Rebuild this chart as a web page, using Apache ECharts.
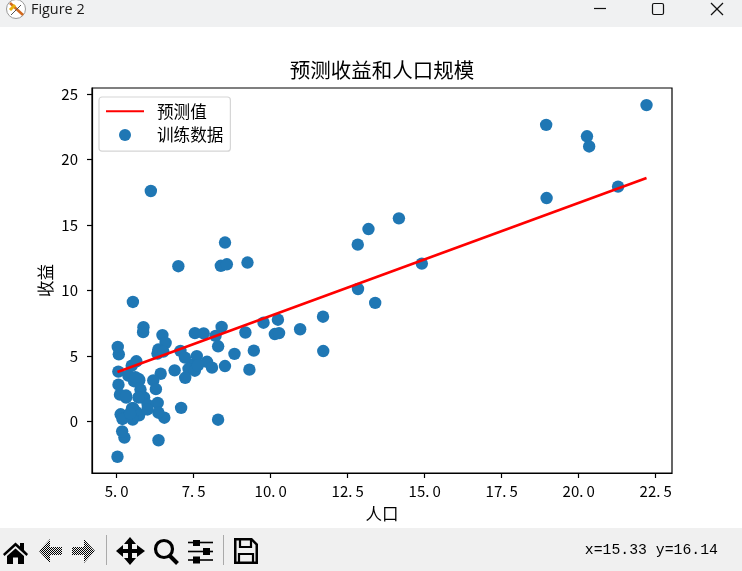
<!DOCTYPE html>
<html><head><meta charset="utf-8">
<style>html,body{margin:0;padding:0;background:#fff}#c{width:742px;height:571px}</style>
<script src="https://cdn.jsdelivr.net/npm/echarts@6/dist/echarts.min.js"></script>
</head><body><div id="c"></div>
<script>
const population = [6.1101,5.5277,8.5186,7.0032,5.8598,8.3829,7.4764,8.5781,6.4862,5.0546,5.7107,14.164,5.734,8.4084,5.6407,5.3794,6.3654,5.1301,6.4296,7.0708,6.1891,20.27,5.4901,6.3261,5.5649,18.945,12.828,10.957,13.176,22.203,5.2524,6.5894,9.2482,5.8918,8.2111,7.9334,8.0959,5.6063,12.836,6.3534,5.4069,6.8825,11.708,5.7737,7.8247,7.0931,5.0702,5.8014,11.7,5.5416,7.5402,5.3077,7.4239,7.6031,6.3328,6.3589,6.2742,5.6397,9.3102,9.4536,8.8254,5.1793,21.279,14.908,18.959,7.2182,8.2951,10.236,5.4994,20.341,10.136,7.3345,6.0062,7.2259,5.0269,6.5479,7.5386,5.0365,10.274,5.1077,5.7292,5.1884,6.3557,9.7687,6.5159,8.5172,9.1802,6.002,5.5204,5.0594,5.7077,7.6366,5.8707,5.3054,8.2934,13.394,5.4369];
const profit = [17.592,9.1302,13.662,11.854,6.8233,11.886,4.3483,12,6.5987,3.8166,3.2522,15.505,3.1551,7.2258,0.71618,3.5129,5.3048,0.56077,3.6518,5.3893,3.1386,21.767,4.263,5.1875,3.0825,22.638,13.501,7.0467,14.692,24.147,-1.22,5.9966,12.134,1.8495,6.5426,4.5623,4.1164,3.3928,10.117,5.4974,0.55657,3.9115,5.3854,2.4406,6.7318,1.0463,5.1337,1.844,8.0043,1.0179,6.7504,1.8396,4.2885,4.9981,1.4233,-1.4211,2.4756,4.6042,3.9624,5.4141,5.1694,-0.74279,17.929,12.054,17.054,4.8852,5.7442,7.7754,1.0173,20.992,6.6799,4.0259,1.2784,3.3411,-2.6807,0.29678,3.8845,5.7014,6.7526,2.0576,0.47953,0.20421,0.67861,7.5435,5.3436,4.2415,6.7981,0.92695,0.152,2.8214,1.8451,4.2959,7.2029,1.9869,0.14454,9.0551,0.61705];
const lineX = [5.0269, 22.203];
const lineY = [3.78, 18.58];
const xTicks = [5, 7.5, 10, 12.5, 15, 17.5, 20, 22.5];
const yTicks = [0, 5, 10, 15, 20, 25];
const titleText = '预测收益和人口规模';
const xName = '人口', yName = '收益';
const lineName = '预测值', scatterName = '训练数据';
const windowTitle = 'Figure 2', statusText = 'x=15.33 y=16.14';

const CJK = '"Noto Sans CJK SC"';
const MONO = '"Liberation Mono"';
const bar = '#f0f0f0';

const cv = document.createElement('canvas'); cv.width = cv.height = 2;
const g = cv.getContext('2d'); g.fillStyle = '#f0f0f0'; g.fillRect(0,0,2,2);
g.fillStyle = '#000'; g.fillRect(0,0,1,1); g.fillRect(1,1,1,1);
const dither = {image: cv, repeat: 'repeat'};

const P = (pts, fill) => ({type:'polygon', silent:true, shape:{points:pts}, style:{fill:fill||'#000', stroke:null}});
const S = (pts, w, col) => ({type:'polyline', silent:true, shape:{points:pts}, style:{fill:null, stroke:col||'#000', lineWidth:w||1}});
const R = (x,y,w,h) => ({type:'rect', silent:true, shape:{x:x,y:y,width:w,height:h}, style:{fill:'#000'}});

const chrome = [
  {type:'rect', silent:true, shape:{x:0,y:0,width:742,height:27}, style:{fill:'#f0f1f2'}},
  {type:'rect', silent:true, shape:{x:0,y:528,width:742,height:43}, style:{fill:bar}},
  {type:'circle', silent:true, shape:{cx:16,cy:9,r:9.5}, style:{fill:'#fff',stroke:'#999',lineWidth:1}},
  S([[10,3],[23,15]], 2.5, '#d2691e'),
  S([[10,10],[15,5]], 3, '#e8b010'),
  S([[11,15],[21,5]], 1, '#555'),
  {type:'text', silent:true, x:31, y:10, style:{text:windowTitle, font:'14.4px "Open Sans"', fill:'#1a1a1a', textVerticalAlign:'middle'}},
  S([[594,8.5],[606,8.5]], 1.2, '#111'),
  {type:'rect', silent:true, shape:{x:652.5,y:3.5,width:11,height:11,r:1.5}, style:{fill:null,stroke:'#111',lineWidth:1.2}},
  S([[711,3],[723,15]], 1.2, '#111'),
  S([[723,3],[711,15]], 1.2, '#111'),
  // home
  P([[3,554],[15.5,542.5],[20,546.5],[20,543],[24,543],[24,550],[28,554],[26.5,556],[15.5,546],[4.5,556]]),
  P([[7,556],[15.5,548.5],[24,556],[24,564],[18,564],[18,557.5],[13,557.5],[13,564],[7,564]]),
  // back / forward
  P([[39,551],[50,539],[50,547],[62,547],[62,555],[50,555],[50,563]], dither),
  P([[95,551],[84,539],[84,547],[72,547],[72,555],[84,555],[84,563]], dither),
  S([[106.5,535],[106.5,565]], 1, '#aaa'),
  // move
  P([[130,537],[136,544],[132,544],[132,549],[137,549],[137,545],[145,551],[137,557],[137,553],[132,553],[132,558],[136,558],[130,565],[124,558],[128,558],[128,553],[123,553],[123,557],[116,551],[123,545],[123,549],[128,549],[128,544],[124,544]]),
  // zoom
  {type:'circle', silent:true, shape:{cx:164,cy:549,r:8.5}, style:{fill:null,stroke:'#000',lineWidth:3.2}},
  S([[170,556],[177.5,563.5]], 4),
  // sliders
  S([[188,542.5],[213,542.5]], 1.6),
  S([[188,551.5],[213,551.5]], 1.6),
  S([[188,560],[213,560]], 1.6),
  R(193,540,7,6), R(203,548,7,7), R(193,556.5,7,7),
  S([[223.5,535],[223.5,565]], 1, '#aaa'),
  // save
  P([[234,538],[252,538],[258,544],[258,564],[234,564]], '#000'),
  P([[236.5,540.5],[251,540.5],[255.5,545],[255.5,561.5],[236.5,561.5]], bar),
  S([[240,539],[240,547],[251,547],[251,539]], 2.2),
  S([[239,563],[239,554],[253,554],[253,563]], 2.2),
  {type:'text', silent:true, x:718, y:550, style:{text:statusText, font:'14.8px '+MONO, fill:'#000', textAlign:'right', textVerticalAlign:'middle'}}
];

const axisCommon = {
  axisLine:{show:true, onZero:false, lineStyle:{color:'#000',width:1.2}},
  splitLine:{show:false},
  nameTextStyle:{fontFamily:CJK, fontSize:16.5, color:'#000'},
  nameLocation:'middle',
  nameMoveOverlap:false
};
const tickFont = {fontFamily:CJK, fontSize:15, color:'#000'};

const chart = echarts.init(document.getElementById('c'), null, {renderer:'canvas'});
chart.setOption({
  animation:false,
  backgroundColor:'#fff',
  title:{text:titleText, left:377, top:55, textAlign:'center', textStyle:{fontFamily:CJK, fontSize:20.5, fontWeight:'normal', color:'#000'}},
  grid:{left:92, top:88, width:580, height:385, show:true, borderColor:'#000', borderWidth:1.2, backgroundColor:'#fff', containLabel:false},
  xAxis:Object.assign({}, axisCommon, {
    type:'value', min:4.2, max:23.03, name:xName, nameGap:32,
    axisTick:{show:true, length:5, inside:false, lineStyle:{color:'#000',width:1.2}, customValues:xTicks},
    axisLabel:Object.assign({customValues:xTicks, margin:11, formatter:v=>{
      const p = v.toFixed(1).split('.');
      return '{a|'+p[0]+'.}{b|'+p[1]+'}';
    }, rich:{a:tickFont, b:Object.assign({padding:[0,0,0,3]}, tickFont)}}, tickFont)
  }),
  yAxis:Object.assign({}, axisCommon, {
    type:'value', min:-3.92, max:25.45, name:yName, nameGap:38,
    axisTick:{show:true, length:5, inside:false, lineStyle:{color:'#000',width:1.2}, customValues:yTicks},
    axisLabel:Object.assign({customValues:yTicks, margin:14, formatter:v=>String(v)}, tickFont)
  }),
  legend:{
    orient:'vertical', left:99, top:97, padding:[6,7,8,6], itemGap:7,
    itemWidth:38, itemHeight:12, selectedMode:false,
    backgroundColor:'rgba(255,255,255,0.8)', borderColor:'#d5d5d5', borderWidth:1.2, borderRadius:3,
    data:[{name:lineName, itemStyle:{opacity:0}}, scatterName],
    textStyle:{fontFamily:CJK, fontSize:16.6, color:'#000', padding:[0,0,0,8]}
  },
  tooltip:{show:false},
  series:[
    {name:scatterName, type:'scatter', z:2, symbolSize:12.4, silent:true, itemStyle:{color:'#1f77b4', opacity:1},
     data:population.map((x,i)=>[x,profit[i]])},
    {name:lineName, type:'line', z:3, silent:true, showSymbol:false, symbol:'none', lineStyle:{color:'#ff0000',width:2.6}, itemStyle:{color:'#ff0000'},
     data:lineX.map((x,i)=>[x,lineY[i]])}
  ],
  graphic:{elements:chrome}
});
</script></body></html>
